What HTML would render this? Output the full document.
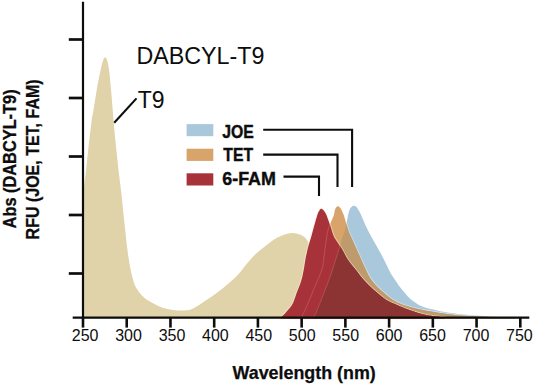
<!DOCTYPE html>
<html><head><meta charset="utf-8"><style>
html,body{margin:0;padding:0;background:#fff;width:533px;height:384px;overflow:hidden;}
svg{display:block;}
</style></head><body>
<svg width="533" height="384" viewBox="0 0 533 384">
<defs><clipPath id="cO"><path d="M301.00,318.50 L301.00,317.50 C301.28,317.08 301.30,317.92 302.70,315.00 C304.10,312.08 307.27,305.00 309.40,300.00 C311.53,295.00 313.43,290.00 315.50,285.00 C317.57,280.00 320.38,274.67 321.80,270.00 C323.22,265.33 323.38,261.17 324.00,257.00 C324.62,252.83 324.83,249.50 325.50,245.00 C326.17,240.50 327.08,233.83 328.00,230.00 C328.92,226.17 330.04,224.40 331.00,222.00 C331.96,219.60 333.08,217.63 333.75,215.60 C334.42,213.57 334.39,211.35 335.00,209.80 C335.61,208.25 336.57,206.68 337.40,206.30 C338.23,205.92 339.23,206.72 340.00,207.50 C340.77,208.28 341.35,209.65 342.00,211.00 C342.65,212.35 343.19,213.53 343.90,215.60 C344.61,217.67 345.47,220.79 346.25,223.40 C347.03,226.01 347.56,228.48 348.60,231.25 C349.64,234.02 351.10,236.88 352.50,240.00 C353.90,243.12 355.50,246.67 357.00,250.00 C358.50,253.33 360.00,256.67 361.50,260.00 C363.00,263.33 364.33,266.67 366.00,270.00 C367.67,273.33 369.05,276.67 371.50,280.00 C373.95,283.33 377.12,286.67 380.70,290.00 C384.28,293.33 389.15,297.50 393.00,300.00 C396.85,302.50 398.80,303.33 403.80,305.00 C408.80,306.67 414.37,308.33 423.00,310.00 C431.63,311.67 444.43,313.83 455.60,315.00 C466.77,316.17 480.10,316.58 490.00,317.00 C499.90,317.42 510.83,317.42 515.00,317.50 L515.00,318.50 Z"/></clipPath><clipPath id="cB"><path d="M312.50,318.50 L312.50,317.50 C312.92,317.08 313.55,317.92 315.00,315.00 C316.45,312.08 319.20,305.00 321.20,300.00 C323.20,295.00 325.25,289.67 327.00,285.00 C328.75,280.33 330.12,276.67 331.70,272.00 C333.28,267.33 334.98,261.83 336.50,257.00 C338.02,252.17 339.55,247.00 340.80,243.00 C342.05,239.00 343.13,235.83 344.00,233.00 C344.87,230.17 345.42,228.50 346.00,226.00 C346.58,223.50 346.95,220.58 347.50,218.00 C348.05,215.42 348.63,212.33 349.30,210.50 C349.97,208.67 350.73,207.78 351.50,207.00 C352.27,206.22 353.07,205.80 353.90,205.80 C354.73,205.80 355.68,206.22 356.50,207.00 C357.32,207.78 358.03,209.17 358.80,210.50 C359.57,211.83 359.97,212.52 361.10,215.00 C362.23,217.48 363.98,221.93 365.60,225.40 C367.22,228.87 369.07,232.53 370.80,235.80 C372.53,239.07 374.47,242.30 376.00,245.00 C377.53,247.70 378.83,249.87 380.00,252.00 C381.17,254.13 381.85,255.53 383.00,257.80 C384.15,260.07 385.60,263.00 386.90,265.60 C388.20,268.20 389.28,270.79 390.80,273.40 C392.32,276.01 394.50,279.02 396.00,281.25 C397.50,283.48 398.25,284.76 399.80,286.80 C401.35,288.84 403.27,291.25 405.30,293.50 C407.33,295.75 409.38,298.23 412.00,300.30 C414.62,302.37 417.62,304.40 421.00,305.90 C424.38,307.40 428.30,308.27 432.30,309.30 C436.30,310.33 439.72,311.22 445.00,312.10 C450.28,312.98 456.50,313.85 464.00,314.60 C471.50,315.35 480.67,316.12 490.00,316.60 C499.33,317.08 515.00,317.35 520.00,317.50 L520.00,318.50 Z"/></clipPath></defs>
<path d="M83.60,318.50 L83.60,190.00 C83.93,187.33 84.82,180.83 85.60,174.00 C86.38,167.17 87.30,157.83 88.30,149.00 C89.30,140.17 90.73,127.50 91.60,121.00 C92.47,114.50 92.65,115.17 93.50,110.00 C94.35,104.83 95.55,96.50 96.70,90.00 C97.85,83.50 99.42,75.67 100.40,71.00 C101.38,66.33 101.83,64.28 102.60,62.00 C103.37,59.72 104.22,57.47 105.00,57.30 C105.78,57.13 106.60,58.72 107.30,61.00 C108.00,63.28 108.54,65.83 109.20,71.00 C109.86,76.17 110.63,85.08 111.25,92.00 C111.87,98.92 112.38,106.17 112.90,112.50 C113.43,118.83 113.80,123.58 114.40,130.00 C115.00,136.42 115.78,144.00 116.50,151.00 C117.22,158.00 117.90,165.08 118.70,172.00 C119.50,178.92 120.53,185.83 121.30,192.50 C122.07,199.17 122.63,205.58 123.30,212.00 C123.97,218.42 124.65,225.00 125.30,231.00 C125.95,237.00 126.60,243.17 127.20,248.00 C127.80,252.83 128.32,256.33 128.90,260.00 C129.48,263.67 130.03,266.83 130.70,270.00 C131.37,273.17 132.10,276.27 132.90,279.00 C133.70,281.73 134.00,283.65 135.50,286.40 C137.00,289.15 139.63,293.07 141.90,295.50 C144.17,297.93 146.08,299.12 149.10,301.00 C152.12,302.88 156.93,305.47 160.00,306.80 C163.07,308.13 165.00,308.43 167.50,309.00 C170.00,309.57 172.50,309.95 175.00,310.20 C177.50,310.45 180.00,310.57 182.50,310.50 C185.00,310.43 187.50,310.55 190.00,309.80 C192.50,309.05 195.00,307.47 197.50,306.00 C200.00,304.53 202.50,302.67 205.00,301.00 C207.50,299.33 210.00,297.75 212.50,296.00 C215.00,294.25 217.50,292.47 220.00,290.50 C222.50,288.53 225.00,286.32 227.50,284.20 C230.00,282.08 232.75,279.97 235.00,277.80 C237.25,275.63 239.00,273.57 241.00,271.20 C243.00,268.83 244.93,266.10 247.00,263.60 C249.07,261.10 251.03,258.58 253.40,256.20 C255.78,253.82 258.65,251.45 261.25,249.30 C263.85,247.15 266.39,245.22 269.00,243.30 C271.61,241.38 274.28,239.28 276.90,237.80 C279.52,236.32 282.10,235.18 284.70,234.40 C287.30,233.62 289.90,233.03 292.50,233.10 C295.10,233.17 297.95,233.73 300.30,234.80 C302.65,235.87 304.90,236.97 306.60,239.50 C308.30,242.03 309.10,244.08 310.50,250.00 C311.90,255.92 313.42,266.67 315.00,275.00 C316.58,283.33 318.17,293.67 320.00,300.00 C321.83,306.33 323.67,310.08 326.00,313.00 C328.33,315.92 332.67,316.75 334.00,317.50 L334.00,318.50 Z" fill="#e0d3aa"/>
<path d="M312.50,318.50 L312.50,317.50 C312.92,317.08 313.55,317.92 315.00,315.00 C316.45,312.08 319.20,305.00 321.20,300.00 C323.20,295.00 325.25,289.67 327.00,285.00 C328.75,280.33 330.12,276.67 331.70,272.00 C333.28,267.33 334.98,261.83 336.50,257.00 C338.02,252.17 339.55,247.00 340.80,243.00 C342.05,239.00 343.13,235.83 344.00,233.00 C344.87,230.17 345.42,228.50 346.00,226.00 C346.58,223.50 346.95,220.58 347.50,218.00 C348.05,215.42 348.63,212.33 349.30,210.50 C349.97,208.67 350.73,207.78 351.50,207.00 C352.27,206.22 353.07,205.80 353.90,205.80 C354.73,205.80 355.68,206.22 356.50,207.00 C357.32,207.78 358.03,209.17 358.80,210.50 C359.57,211.83 359.97,212.52 361.10,215.00 C362.23,217.48 363.98,221.93 365.60,225.40 C367.22,228.87 369.07,232.53 370.80,235.80 C372.53,239.07 374.47,242.30 376.00,245.00 C377.53,247.70 378.83,249.87 380.00,252.00 C381.17,254.13 381.85,255.53 383.00,257.80 C384.15,260.07 385.60,263.00 386.90,265.60 C388.20,268.20 389.28,270.79 390.80,273.40 C392.32,276.01 394.50,279.02 396.00,281.25 C397.50,283.48 398.25,284.76 399.80,286.80 C401.35,288.84 403.27,291.25 405.30,293.50 C407.33,295.75 409.38,298.23 412.00,300.30 C414.62,302.37 417.62,304.40 421.00,305.90 C424.38,307.40 428.30,308.27 432.30,309.30 C436.30,310.33 439.72,311.22 445.00,312.10 C450.28,312.98 456.50,313.85 464.00,314.60 C471.50,315.35 480.67,316.12 490.00,316.60 C499.33,317.08 515.00,317.35 520.00,317.50 L520.00,318.50 Z" fill="#aac8dc"/>
<path d="M301.00,318.50 L301.00,317.50 C301.28,317.08 301.30,317.92 302.70,315.00 C304.10,312.08 307.27,305.00 309.40,300.00 C311.53,295.00 313.43,290.00 315.50,285.00 C317.57,280.00 320.38,274.67 321.80,270.00 C323.22,265.33 323.38,261.17 324.00,257.00 C324.62,252.83 324.83,249.50 325.50,245.00 C326.17,240.50 327.08,233.83 328.00,230.00 C328.92,226.17 330.04,224.40 331.00,222.00 C331.96,219.60 333.08,217.63 333.75,215.60 C334.42,213.57 334.39,211.35 335.00,209.80 C335.61,208.25 336.57,206.68 337.40,206.30 C338.23,205.92 339.23,206.72 340.00,207.50 C340.77,208.28 341.35,209.65 342.00,211.00 C342.65,212.35 343.19,213.53 343.90,215.60 C344.61,217.67 345.47,220.79 346.25,223.40 C347.03,226.01 347.56,228.48 348.60,231.25 C349.64,234.02 351.10,236.88 352.50,240.00 C353.90,243.12 355.50,246.67 357.00,250.00 C358.50,253.33 360.00,256.67 361.50,260.00 C363.00,263.33 364.33,266.67 366.00,270.00 C367.67,273.33 369.05,276.67 371.50,280.00 C373.95,283.33 377.12,286.67 380.70,290.00 C384.28,293.33 389.15,297.50 393.00,300.00 C396.85,302.50 398.80,303.33 403.80,305.00 C408.80,306.67 414.37,308.33 423.00,310.00 C431.63,311.67 444.43,313.83 455.60,315.00 C466.77,316.17 480.10,316.58 490.00,317.00 C499.90,317.42 510.83,317.42 515.00,317.50 L515.00,318.50 Z" fill="none" stroke="rgba(255,255,255,0.45)" stroke-width="1.8"/>
<path d="M301.00,318.50 L301.00,317.50 C301.28,317.08 301.30,317.92 302.70,315.00 C304.10,312.08 307.27,305.00 309.40,300.00 C311.53,295.00 313.43,290.00 315.50,285.00 C317.57,280.00 320.38,274.67 321.80,270.00 C323.22,265.33 323.38,261.17 324.00,257.00 C324.62,252.83 324.83,249.50 325.50,245.00 C326.17,240.50 327.08,233.83 328.00,230.00 C328.92,226.17 330.04,224.40 331.00,222.00 C331.96,219.60 333.08,217.63 333.75,215.60 C334.42,213.57 334.39,211.35 335.00,209.80 C335.61,208.25 336.57,206.68 337.40,206.30 C338.23,205.92 339.23,206.72 340.00,207.50 C340.77,208.28 341.35,209.65 342.00,211.00 C342.65,212.35 343.19,213.53 343.90,215.60 C344.61,217.67 345.47,220.79 346.25,223.40 C347.03,226.01 347.56,228.48 348.60,231.25 C349.64,234.02 351.10,236.88 352.50,240.00 C353.90,243.12 355.50,246.67 357.00,250.00 C358.50,253.33 360.00,256.67 361.50,260.00 C363.00,263.33 364.33,266.67 366.00,270.00 C367.67,273.33 369.05,276.67 371.50,280.00 C373.95,283.33 377.12,286.67 380.70,290.00 C384.28,293.33 389.15,297.50 393.00,300.00 C396.85,302.50 398.80,303.33 403.80,305.00 C408.80,306.67 414.37,308.33 423.00,310.00 C431.63,311.67 444.43,313.83 455.60,315.00 C466.77,316.17 480.10,316.58 490.00,317.00 C499.90,317.42 510.83,317.42 515.00,317.50 L515.00,318.50 Z" fill="#d8a46c"/>
<g clip-path="url(#cB)"><path d="M301.00,318.50 L301.00,317.50 C301.28,317.08 301.30,317.92 302.70,315.00 C304.10,312.08 307.27,305.00 309.40,300.00 C311.53,295.00 313.43,290.00 315.50,285.00 C317.57,280.00 320.38,274.67 321.80,270.00 C323.22,265.33 323.38,261.17 324.00,257.00 C324.62,252.83 324.83,249.50 325.50,245.00 C326.17,240.50 327.08,233.83 328.00,230.00 C328.92,226.17 330.04,224.40 331.00,222.00 C331.96,219.60 333.08,217.63 333.75,215.60 C334.42,213.57 334.39,211.35 335.00,209.80 C335.61,208.25 336.57,206.68 337.40,206.30 C338.23,205.92 339.23,206.72 340.00,207.50 C340.77,208.28 341.35,209.65 342.00,211.00 C342.65,212.35 343.19,213.53 343.90,215.60 C344.61,217.67 345.47,220.79 346.25,223.40 C347.03,226.01 347.56,228.48 348.60,231.25 C349.64,234.02 351.10,236.88 352.50,240.00 C353.90,243.12 355.50,246.67 357.00,250.00 C358.50,253.33 360.00,256.67 361.50,260.00 C363.00,263.33 364.33,266.67 366.00,270.00 C367.67,273.33 369.05,276.67 371.50,280.00 C373.95,283.33 377.12,286.67 380.70,290.00 C384.28,293.33 389.15,297.50 393.00,300.00 C396.85,302.50 398.80,303.33 403.80,305.00 C408.80,306.67 414.37,308.33 423.00,310.00 C431.63,311.67 444.43,313.83 455.60,315.00 C466.77,316.17 480.10,316.58 490.00,317.00 C499.90,317.42 510.83,317.42 515.00,317.50 L515.00,318.50 Z" fill="#bd9b6d"/></g>
<path d="M280.50,318.50 L280.50,317.50 C281.00,317.08 282.25,316.25 283.50,315.00 C284.75,313.75 286.58,311.67 288.00,310.00 C289.42,308.33 290.97,306.67 292.00,305.00 C293.03,303.33 293.33,302.25 294.20,300.00 C295.07,297.75 296.22,294.12 297.20,291.50 C298.18,288.88 299.27,286.68 300.10,284.30 C300.93,281.92 301.60,279.58 302.20,277.20 C302.80,274.82 303.15,273.03 303.70,270.00 C304.25,266.97 304.95,262.00 305.50,259.00 C306.05,256.00 306.46,254.33 307.00,252.00 C307.54,249.67 308.02,247.62 308.75,245.00 C309.48,242.38 310.49,239.45 311.40,236.25 C312.31,233.05 313.23,229.28 314.20,225.80 C315.17,222.33 316.43,217.78 317.20,215.40 C317.97,213.02 318.15,212.62 318.80,211.50 C319.45,210.38 320.32,208.92 321.10,208.70 C321.88,208.48 322.80,209.52 323.50,210.20 C324.20,210.88 324.72,211.75 325.30,212.80 C325.88,213.85 326.17,214.33 327.00,216.50 C327.83,218.67 329.18,222.51 330.30,225.80 C331.43,229.09 332.47,233.38 333.75,236.25 C335.03,239.12 336.56,240.71 338.00,243.00 C339.44,245.29 340.73,247.17 342.40,250.00 C344.07,252.83 345.75,256.67 348.00,260.00 C350.25,263.33 353.27,266.67 355.90,270.00 C358.53,273.33 360.80,276.67 363.80,280.00 C366.80,283.33 370.15,286.67 373.90,290.00 C377.65,293.33 382.45,297.50 386.30,300.00 C390.15,302.50 393.15,303.33 397.00,305.00 C400.85,306.67 404.52,308.33 409.40,310.00 C414.28,311.67 420.37,313.75 426.30,315.00 C432.23,316.25 441.88,317.08 445.00,317.50 L445.00,318.50 Z" fill="none" stroke="rgba(255,235,210,0.55)" stroke-width="2"/>
<path d="M280.50,318.50 L280.50,317.50 C281.00,317.08 282.25,316.25 283.50,315.00 C284.75,313.75 286.58,311.67 288.00,310.00 C289.42,308.33 290.97,306.67 292.00,305.00 C293.03,303.33 293.33,302.25 294.20,300.00 C295.07,297.75 296.22,294.12 297.20,291.50 C298.18,288.88 299.27,286.68 300.10,284.30 C300.93,281.92 301.60,279.58 302.20,277.20 C302.80,274.82 303.15,273.03 303.70,270.00 C304.25,266.97 304.95,262.00 305.50,259.00 C306.05,256.00 306.46,254.33 307.00,252.00 C307.54,249.67 308.02,247.62 308.75,245.00 C309.48,242.38 310.49,239.45 311.40,236.25 C312.31,233.05 313.23,229.28 314.20,225.80 C315.17,222.33 316.43,217.78 317.20,215.40 C317.97,213.02 318.15,212.62 318.80,211.50 C319.45,210.38 320.32,208.92 321.10,208.70 C321.88,208.48 322.80,209.52 323.50,210.20 C324.20,210.88 324.72,211.75 325.30,212.80 C325.88,213.85 326.17,214.33 327.00,216.50 C327.83,218.67 329.18,222.51 330.30,225.80 C331.43,229.09 332.47,233.38 333.75,236.25 C335.03,239.12 336.56,240.71 338.00,243.00 C339.44,245.29 340.73,247.17 342.40,250.00 C344.07,252.83 345.75,256.67 348.00,260.00 C350.25,263.33 353.27,266.67 355.90,270.00 C358.53,273.33 360.80,276.67 363.80,280.00 C366.80,283.33 370.15,286.67 373.90,290.00 C377.65,293.33 382.45,297.50 386.30,300.00 C390.15,302.50 393.15,303.33 397.00,305.00 C400.85,306.67 404.52,308.33 409.40,310.00 C414.28,311.67 420.37,313.75 426.30,315.00 C432.23,316.25 441.88,317.08 445.00,317.50 L445.00,318.50 Z" fill="#a83239"/>
<g clip-path="url(#cB)"><path d="M280.50,318.50 L280.50,317.50 C281.00,317.08 282.25,316.25 283.50,315.00 C284.75,313.75 286.58,311.67 288.00,310.00 C289.42,308.33 290.97,306.67 292.00,305.00 C293.03,303.33 293.33,302.25 294.20,300.00 C295.07,297.75 296.22,294.12 297.20,291.50 C298.18,288.88 299.27,286.68 300.10,284.30 C300.93,281.92 301.60,279.58 302.20,277.20 C302.80,274.82 303.15,273.03 303.70,270.00 C304.25,266.97 304.95,262.00 305.50,259.00 C306.05,256.00 306.46,254.33 307.00,252.00 C307.54,249.67 308.02,247.62 308.75,245.00 C309.48,242.38 310.49,239.45 311.40,236.25 C312.31,233.05 313.23,229.28 314.20,225.80 C315.17,222.33 316.43,217.78 317.20,215.40 C317.97,213.02 318.15,212.62 318.80,211.50 C319.45,210.38 320.32,208.92 321.10,208.70 C321.88,208.48 322.80,209.52 323.50,210.20 C324.20,210.88 324.72,211.75 325.30,212.80 C325.88,213.85 326.17,214.33 327.00,216.50 C327.83,218.67 329.18,222.51 330.30,225.80 C331.43,229.09 332.47,233.38 333.75,236.25 C335.03,239.12 336.56,240.71 338.00,243.00 C339.44,245.29 340.73,247.17 342.40,250.00 C344.07,252.83 345.75,256.67 348.00,260.00 C350.25,263.33 353.27,266.67 355.90,270.00 C358.53,273.33 360.80,276.67 363.80,280.00 C366.80,283.33 370.15,286.67 373.90,290.00 C377.65,293.33 382.45,297.50 386.30,300.00 C390.15,302.50 393.15,303.33 397.00,305.00 C400.85,306.67 404.52,308.33 409.40,310.00 C414.28,311.67 420.37,313.75 426.30,315.00 C432.23,316.25 441.88,317.08 445.00,317.50 L445.00,318.50 Z" fill="#8c3334"/></g>
<defs><clipPath id="cR"><path d="M280.50,318.50 L280.50,317.50 C281.00,317.08 282.25,316.25 283.50,315.00 C284.75,313.75 286.58,311.67 288.00,310.00 C289.42,308.33 290.97,306.67 292.00,305.00 C293.03,303.33 293.33,302.25 294.20,300.00 C295.07,297.75 296.22,294.12 297.20,291.50 C298.18,288.88 299.27,286.68 300.10,284.30 C300.93,281.92 301.60,279.58 302.20,277.20 C302.80,274.82 303.15,273.03 303.70,270.00 C304.25,266.97 304.95,262.00 305.50,259.00 C306.05,256.00 306.46,254.33 307.00,252.00 C307.54,249.67 308.02,247.62 308.75,245.00 C309.48,242.38 310.49,239.45 311.40,236.25 C312.31,233.05 313.23,229.28 314.20,225.80 C315.17,222.33 316.43,217.78 317.20,215.40 C317.97,213.02 318.15,212.62 318.80,211.50 C319.45,210.38 320.32,208.92 321.10,208.70 C321.88,208.48 322.80,209.52 323.50,210.20 C324.20,210.88 324.72,211.75 325.30,212.80 C325.88,213.85 326.17,214.33 327.00,216.50 C327.83,218.67 329.18,222.51 330.30,225.80 C331.43,229.09 332.47,233.38 333.75,236.25 C335.03,239.12 336.56,240.71 338.00,243.00 C339.44,245.29 340.73,247.17 342.40,250.00 C344.07,252.83 345.75,256.67 348.00,260.00 C350.25,263.33 353.27,266.67 355.90,270.00 C358.53,273.33 360.80,276.67 363.80,280.00 C366.80,283.33 370.15,286.67 373.90,290.00 C377.65,293.33 382.45,297.50 386.30,300.00 C390.15,302.50 393.15,303.33 397.00,305.00 C400.85,306.67 404.52,308.33 409.40,310.00 C414.28,311.67 420.37,313.75 426.30,315.00 C432.23,316.25 441.88,317.08 445.00,317.50 L445.00,318.50 Z"/></clipPath></defs>
<g clip-path="url(#cR)" fill="none" stroke-width="0.9">
<path d="M301.00,317.50 C301.28,317.08 301.30,317.92 302.70,315.00 C304.10,312.08 307.27,305.00 309.40,300.00 C311.53,295.00 313.43,290.00 315.50,285.00 C317.57,280.00 320.38,274.67 321.80,270.00 C323.22,265.33 323.38,261.17 324.00,257.00 C324.62,252.83 324.83,249.50 325.50,245.00 C326.17,240.50 327.08,233.83 328.00,230.00 C328.92,226.17 330.04,224.40 331.00,222.00 C331.96,219.60 333.08,217.63 333.75,215.60 C334.42,213.57 334.39,211.35 335.00,209.80 C335.61,208.25 337.00,206.88 337.40,206.30" stroke="rgba(230,150,140,0.35)"/>
<path d="M312.50,317.50 C312.92,317.08 313.55,317.92 315.00,315.00 C316.45,312.08 319.20,305.00 321.20,300.00 C323.20,295.00 325.25,289.67 327.00,285.00 C328.75,280.33 330.12,276.67 331.70,272.00 C333.28,267.33 334.98,261.83 336.50,257.00 C338.02,252.17 339.55,247.00 340.80,243.00 C342.05,239.00 343.13,235.83 344.00,233.00 C344.87,230.17 345.42,228.50 346.00,226.00 C346.58,223.50 346.95,220.58 347.50,218.00 C348.05,215.42 348.63,212.33 349.30,210.50 C349.97,208.67 350.73,207.78 351.50,207.00 C352.27,206.22 353.50,206.00 353.90,205.80" stroke="rgba(230,150,140,0.35)"/>
</g>
<g stroke="#0d0d0d" fill="none">
<path d="M83.0,1.8 V318" stroke-width="2.2"/>
<path d="M72.7,317.55 H529.3" stroke-width="2.3"/>
<path d="M68.8,39.5 H83.0" stroke-width="2.7"/>
<path d="M68.8,98.0 H83.0" stroke-width="2.7"/>
<path d="M68.8,156.5 H83.0" stroke-width="2.7"/>
<path d="M68.8,215.0 H83.0" stroke-width="2.7"/>
<path d="M68.8,273.5 H83.0" stroke-width="2.7"/>
<path d="M83.00,317.6 V327.6" stroke-width="2.6"/>
<path d="M126.73,317.6 V327.6" stroke-width="2.6"/>
<path d="M170.46,317.6 V327.6" stroke-width="2.6"/>
<path d="M214.19,317.6 V327.6" stroke-width="2.6"/>
<path d="M257.92,317.6 V327.6" stroke-width="2.6"/>
<path d="M301.65,317.6 V327.6" stroke-width="2.6"/>
<path d="M345.38,317.6 V327.6" stroke-width="2.6"/>
<path d="M389.11,317.6 V327.6" stroke-width="2.6"/>
<path d="M432.84,317.6 V327.6" stroke-width="2.6"/>
<path d="M476.57,317.6 V327.6" stroke-width="2.6"/>
<path d="M520.30,317.6 V327.6" stroke-width="2.6"/>
</g>
<g stroke="#0d0d0d" stroke-width="2.1" fill="none">
<path d="M263.2,129.8 H352.1 V187"/>
<path d="M263.2,154.6 H337.5 V187"/>
<path d="M283.5,176.6 H319 V196"/>
<path d="M114.2,122.7 L136.5,98.4"/>
</g>
<rect x="186.6" y="124.1" width="26.7" height="12.1" fill="#aac8dc"/>
<rect x="186.6" y="148.7" width="26.7" height="12.2" fill="#d8a46c"/>
<rect x="186.6" y="173.3" width="26.7" height="12.2" fill="#a83239"/>
<g font-family="Liberation Sans, sans-serif" fill="#0d0d0d" font-size="16" text-anchor="middle">
<text x="85.1" y="340.6">250</text>
<text x="128.5" y="340.6">300</text>
<text x="172.0" y="340.6">350</text>
<text x="215.4" y="340.6">400</text>
<text x="258.8" y="340.6">450</text>
<text x="302.2" y="340.6">500</text>
<text x="345.7" y="340.6">550</text>
<text x="389.1" y="340.6">600</text>
<text x="432.5" y="340.6">650</text>
<text x="476.0" y="340.6">700</text>
<text x="519.4" y="340.6">750</text>
</g>
<text x="136.4" y="63.5" font-family="Liberation Sans, sans-serif" font-size="23" fill="#0d0d0d" textLength="128" lengthAdjust="spacingAndGlyphs">DABCYL-T9</text>
<text x="137.7" y="107.6" font-family="Liberation Sans, sans-serif" font-size="23" fill="#0d0d0d">T9</text>
<g font-family="Liberation Sans, sans-serif" font-weight="bold" fill="#0d0d0d" stroke="#0d0d0d" stroke-width="0.4" font-size="17.8">
<text x="222.3" y="137.7" textLength="31.6" lengthAdjust="spacingAndGlyphs">JOE</text>
<text x="223.3" y="161.2" textLength="29.7" lengthAdjust="spacingAndGlyphs">TET</text>
<text x="222.3" y="184.6" textLength="53.6" lengthAdjust="spacingAndGlyphs">6-FAM</text>
</g>
<text x="232.5" y="379" font-family="Liberation Sans, sans-serif" font-weight="bold" font-size="17.7" fill="#0d0d0d" stroke="#0d0d0d" stroke-width="0.25" textLength="143.3" lengthAdjust="spacingAndGlyphs">Wavelength (nm)</text>
<g font-family="Liberation Sans, sans-serif" font-weight="bold" fill="#0d0d0d" stroke="#0d0d0d" stroke-width="0.3" font-size="18">
<text transform="translate(15.6,228.4) rotate(-90)" textLength="139" lengthAdjust="spacingAndGlyphs">Abs (DABCYL-T9)</text>
<text transform="translate(38.9,239.4) rotate(-90)" textLength="160" lengthAdjust="spacingAndGlyphs">RFU (JOE, TET, FAM)</text>
</g>
</svg>
</body></html>
